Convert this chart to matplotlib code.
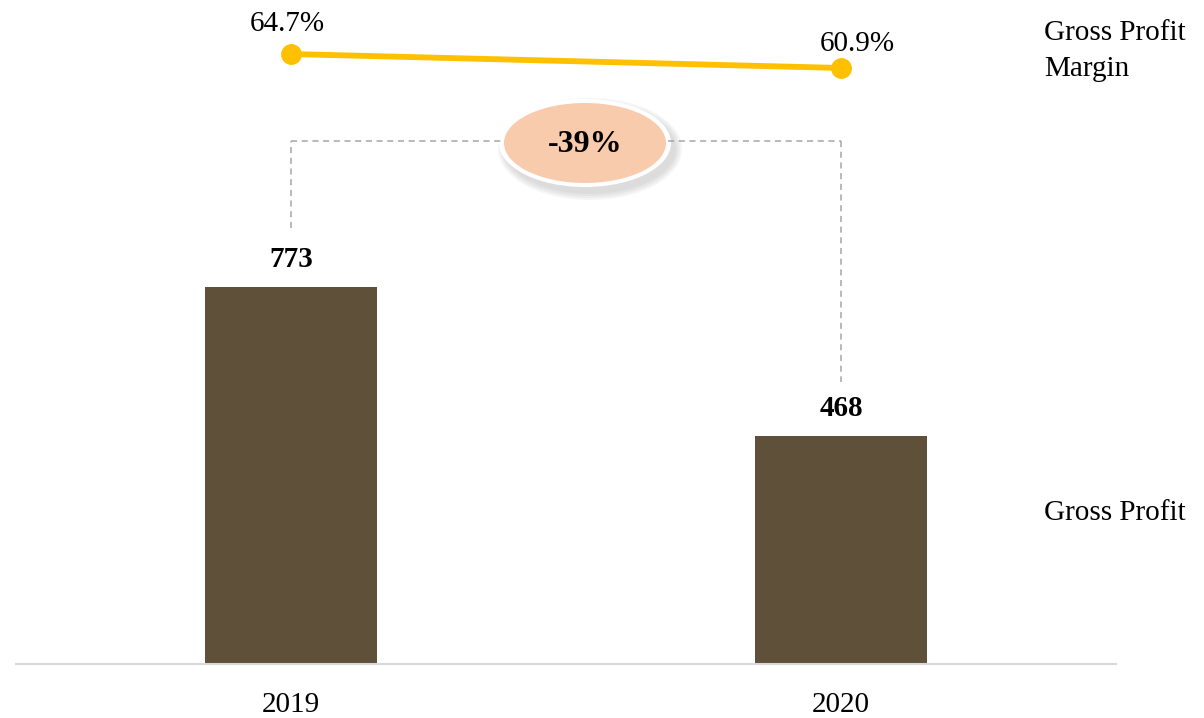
import matplotlib
matplotlib.use('Agg')
import matplotlib.pyplot as plt
from matplotlib.patches import Ellipse

# gross profit by year and the margin line above it
years = ['2019', '2020']
gross_profit = [773, 468]
margin_pct = [64.7, 60.9]
change_label = '-39%'

BAR_COLOR = '#5E5039'
LINE_COLOR = '#FFC000'
FONT = ['Liberation Serif', 'DejaVu Serif']
FS = 21

plt.rcParams['font.family'] = FONT

W, H = 1204, 718
fig = plt.figure(figsize=(W / 100, H / 100), dpi=100)


def fx(x):
    return x / W


def fy(y):
    return 1 - y / H


# main axes: baseline at y=664px, spans x 16..1116
ax = fig.add_axes([fx(16), fy(664), 1100 / W, 664 / H])
xs = list(range(len(years)))
ax.bar(xs, gross_profit, width=0.314, color=BAR_COLOR, zorder=2)
ax.set_xlim(-0.5, 1.5)
ax.set_ylim(0, 773 * 664 / 377)
for s in ['top', 'right', 'left']:
    ax.spines[s].set_visible(False)
ax.spines['bottom'].set_color('#D9D9D9')
ax.spines['bottom'].set_linewidth(1.5)
ax.set_yticks([])
ax.set_xticks(xs)
ax.set_xticklabels(years, fontsize=FS)
ax.tick_params(axis='x', length=0, pad=20)

for x, v in zip(xs, gross_profit):
    ax.annotate(str(v), (x, v), xytext=(0, 10), textcoords='offset points',
                ha='center', va='bottom', fontsize=FS, fontweight='bold')

# margin line on its own scale
ax2 = ax.twinx()
top = 64.7 + 54 * 3.8 / 14
ax2.set_ylim(top - 664 * 3.8 / 14, top)
ax2.plot(xs, margin_pct, color=LINE_COLOR, lw=4.2, marker='o', ms=14,
         solid_capstyle='round', zorder=3)
ax2.axis('off')
ax2.annotate(f'{margin_pct[0]:.1f}%', (xs[0], margin_pct[0]), xytext=(-3, 12),
             textcoords='offset points', ha='center', va='bottom', fontsize=FS)
ax2.annotate(f'{margin_pct[1]:.1f}%', (xs[1], margin_pct[1]), xytext=(12, 8),
             textcoords='offset points', ha='center', va='bottom', fontsize=FS)

# dashed connector between the bars
dash = dict(color='#A6A6A6', lw=1.1, ls=(0, (4, 3)), transform=fig.transFigure)
fig.add_artist(plt.Line2D([fx(291), fx(291)], [fy(228), fy(141)], **dash))
fig.add_artist(plt.Line2D([fx(291), fx(505)], [fy(141), fy(141)], **dash))
fig.add_artist(plt.Line2D([fx(668), fx(841)], [fy(141), fy(141)], **dash))
fig.add_artist(plt.Line2D([fx(841), fx(841)], [fy(141), fy(382)], **dash))

# change bubble with a soft shadow
cx, cy = 585, 143
for grow in [14, 10, 6, 2]:
    fig.add_artist(Ellipse((fx(cx + 5), fy(cy + 6)), (170 + grow) / W,
                           (88 + grow) / H, transform=fig.transFigure,
                           facecolor='#7F7F7F', edgecolor='none', alpha=0.07))
fig.add_artist(Ellipse((fx(cx), fy(cy)), 172 / W, 88 / H,
                       transform=fig.transFigure, facecolor='white',
                       edgecolor='none'))
fig.add_artist(Ellipse((fx(cx), fy(cy)), 162 / W, 80 / H,
                       transform=fig.transFigure, facecolor='#F8CBAD',
                       edgecolor='none'))
fig.text(fx(cx), fy(cy + 2), change_label, ha='center', va='center',
         fontsize=23, fontweight='bold')

# series labels on the right
fig.text(fx(1044), fy(51), 'Gross Profit\nMargin', ha='left', va='center',
         fontsize=FS, linespacing=1.5)
fig.text(fx(1044), fy(513), 'Gross Profit', ha='left', va='center', fontsize=FS)

fig.savefig('out.png', dpi=100, facecolor='white')
